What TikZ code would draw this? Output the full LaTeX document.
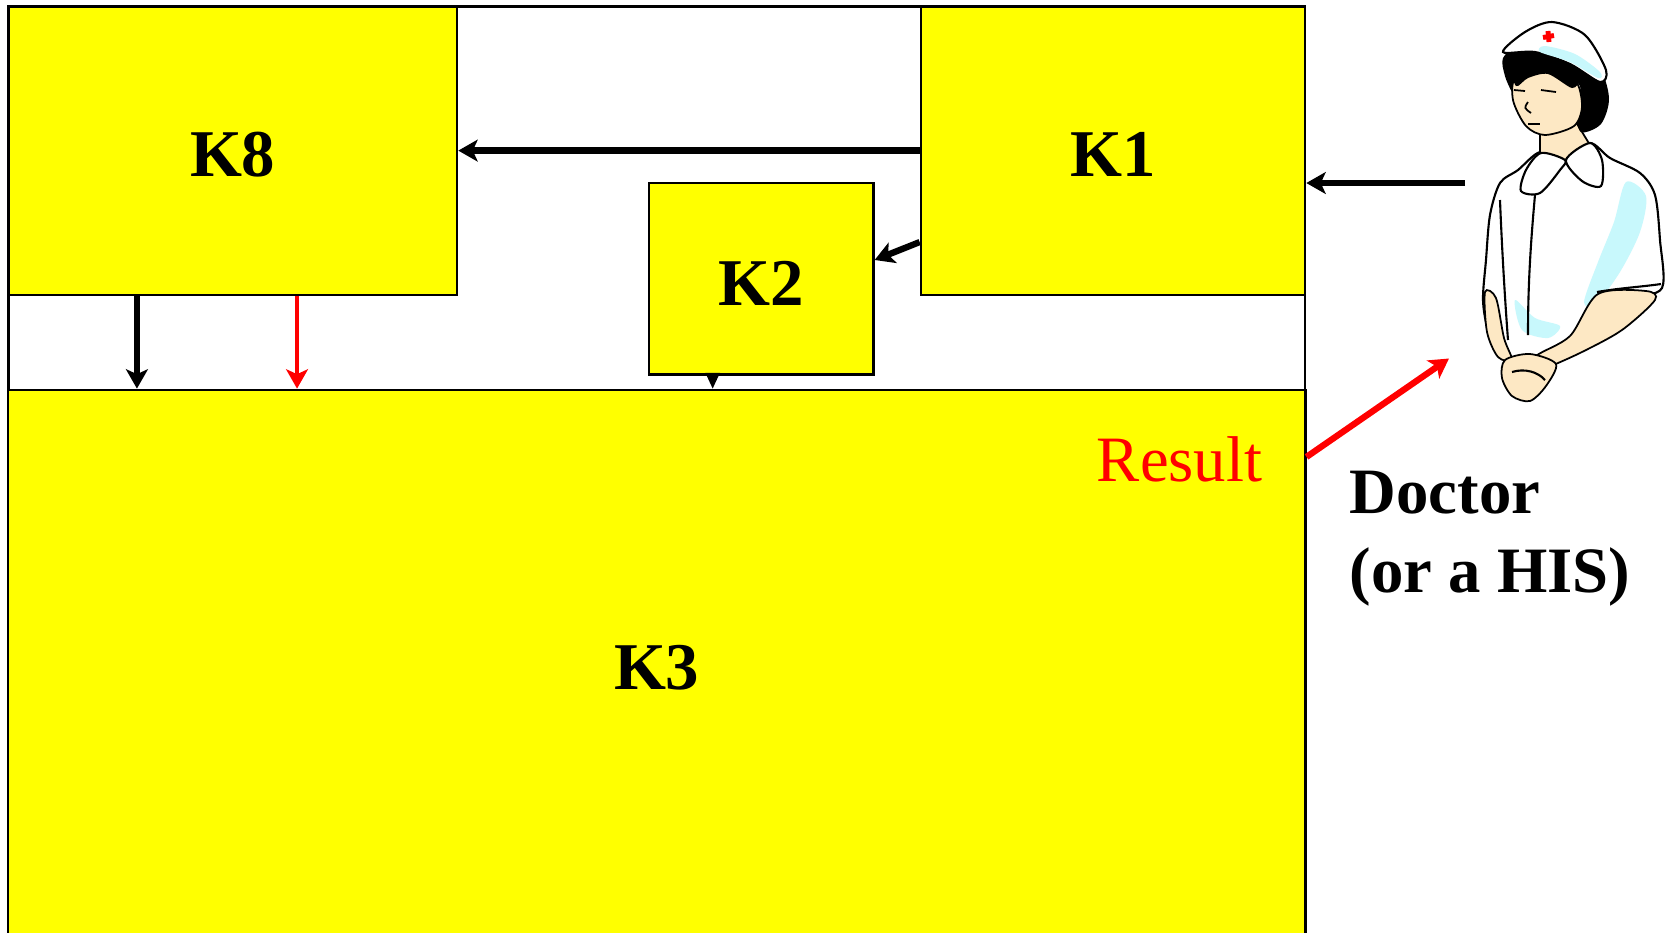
\documentclass[tikz,border=0pt]{standalone}
\usepackage{fontspec}
\setmainfont{Liberation Serif}
\usetikzlibrary{positioning,arrows.meta}

\definecolor{kyellow}{RGB}{255,255,0}
\definecolor{nskin}{RGB}{253,232,196}
\definecolor{nshade}{RGB}{200,248,252}

\begin{document}
\begin{tikzpicture}[x=0.01cm,y=-0.01cm]
  \tikzset{box/.style={draw, fill=kyellow, line width=0.7pt, inner sep=0pt,
      text height=15pt, text depth=0pt, font=\fontsize{19}{23}\selectfont\bfseries}}
  \tikzset{flow/.style={-{Stealth[length=5.5pt,width=6.2pt,inset=1.4pt]}, line width=1.8pt}}
  \tikzset{caption/.style={inner sep=0pt, font=\fontsize{18.4}{22}\selectfont}}
  \tikzset{bcaption/.style={inner sep=0pt, font=\fontsize{18.4}{22}\selectfont\bfseries}}
  \tikzset{skin/.style={fill=nskin, draw=black, line width=0.5pt}}
  \tikzset{ink/.style={draw=black, line width=0.6pt}}

  \clip (0,0) rectangle (1668,932);

  % frame round the modules
  \draw[line width=0.7pt] (8.5,960) -- (8.5,6.5) -- (1305,6.5) -- (1305,960);

  \node[box, minimum width=12.965cm, minimum height=5.46cm] (k3) at (656.7,663) {K3};
  \node[box, minimum width=4.485cm, minimum height=2.882cm] (k8) at (232.7,150.6) {K8};
  \node[box, minimum width=3.84cm, minimum height=2.882cm] (k1) at (1113,150.6) {K1};
  \node[box, minimum width=2.243cm, minimum height=1.913cm] (k2) at (761.2,278.7) {K2};

  \node[caption, text=red, anchor=base east] (result) at (1263,481) {Result};
  \node[bcaption, anchor=base west] (doctor) at (1349,513) {Doctor};
  \node[bcaption, below=0.79cm of doctor.base west, anchor=base west] (his) {(or a HIS)};

  % the nurse
  \coordinate (nurse) at (1465,183);
  \coordinate (nursehand) at (1449,358.5);

  % blouse
  \path[ink, fill=white] plot[smooth cycle] coordinates {
    (1540,152) (1518,170) (1500,183) (1490,215) (1486,260) (1483,300)
    (1488,330) (1500,352) (1515,362) (1560,352) (1600,330) (1630,300)
    (1662,288) (1660,240) (1655,195) (1640,173) (1610,158) (1590,143) (1565,158)};
  \fill[nshade] plot[smooth cycle] coordinates {
    (1626,182) (1614,222) (1598,262) (1584,302) (1596,304) (1620,272) (1640,232) (1646,196)};
  \fill[nshade] plot[smooth cycle] coordinates {
    (1515,300) (1535,318) (1560,326) (1548,338) (1522,330)};
  \draw[ink] (1535,195) .. controls (1530,250) and (1528,290) .. (1528,335);
  \draw[ink] (1500,200) .. controls (1502,250) and (1505,300) .. (1508,340);
  \draw[ink] (1597,292) .. controls (1620,288) and (1640,287) .. (1661,284);

  % arms and hands
  \path[skin] plot[smooth cycle] coordinates {
    (1485,292) (1496,298) (1504,338) (1512,360) (1498,357) (1487,332)};
  \path[skin] plot[smooth cycle] coordinates {
    (1598,294) (1646,291) (1655,300) (1622,330) (1582,352) (1546,368)
    (1530,372) (1536,356) (1570,336)};
  \path[skin] plot[smooth cycle] coordinates {
    (1505,360) (1530,354) (1556,364) (1546,386) (1530,401) (1512,396) (1502,378)};
  \draw[ink] (1512,372) .. controls (1525,368) and (1538,372) .. (1545,380);

  % neck and collar
  \path[skin] (1540,122) -- (1576,122) -- (1590,145) -- (1565,160) -- (1540,155) -- cycle;
  \path[ink, fill=white] plot[smooth cycle] coordinates {
    (1541,153) (1526,170) (1521,191) (1540,193) (1560,170) (1565,160)};
  \path[ink, fill=white] plot[smooth cycle] coordinates {
    (1590,143) (1602,160) (1601,186) (1582,181) (1566,160)};

  % hair, face and cap
  \fill[black] plot[smooth cycle] coordinates {
    (1503,58) (1520,45) (1560,40) (1598,66) (1609,98) (1601,124) (1581,132)
    (1575,110) (1580,86) (1560,76) (1530,80) (1518,96) (1512,92) (1505,76)};
  \path[skin] plot[smooth cycle] coordinates {
    (1516,76) (1545,68) (1575,80) (1582,106) (1574,126) (1545,135) (1526,126) (1513,100)};
  \fill[black] plot[smooth cycle] coordinates {
    (1512,62) (1550,58) (1578,78) (1572,88) (1548,74) (1528,78) (1516,86)};
  \path[ink, fill=white] plot[smooth cycle] coordinates {
    (1503,52) (1525,32) (1552,22) (1585,35) (1606,70) (1600,82) (1570,64) (1535,52)};
  \fill[nshade] plot[smooth cycle] coordinates {
    (1545,46) (1575,54) (1600,72) (1598,78) (1570,62) (1540,52)};
  \draw[red, line width=1.4pt] (1543,37.5) -- (1554,35.5) (1548,31) -- (1549,42);
  \draw[line width=0.5pt] (1514,90) -- (1525,91) (1541,90) -- (1556,92);
  \draw[line width=0.5pt] (1528,102) .. controls (1524,108) .. (1531,113);
  \draw[line width=0.5pt] (1528,124) -- (1540,124);

  % connections
  \draw[flow] (k1.west) -- (k8.east);
  \draw[flow] (nurse) -- (nurse -| k1.east);
  \draw[flow] ([yshift=-0.914cm]k1.west) -- ([yshift=0.187cm]k2.east);
  \draw[flow] ([xshift=-0.957cm]k8.south) -- ([xshift=-0.957cm]k8.south |- k3.north);
  \draw[flow, red, line width=1.2pt] ([xshift=0.643cm]k8.south) -- ([xshift=0.643cm]k8.south |- k3.north);
  \draw[-{Triangle[length=4.5pt,width=4pt]}, line width=0.6pt]
    ([xshift=-0.485cm]k2.south) -- ([xshift=-0.485cm]k2.south |- k3.north);
  \draw[flow, red] ([yshift=2.06cm]k3.east) -- (nursehand);
\end{tikzpicture}
\end{document}
